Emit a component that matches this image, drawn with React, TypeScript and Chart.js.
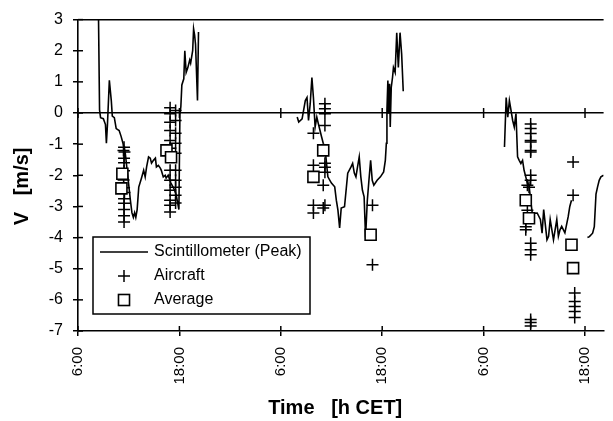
import React, { useEffect, useRef } from 'react';
import { Chart, registerables } from 'chart.js';

Chart.register(...registerables);

const FONT = '"Liberation Sans", Arial, Helvetica, sans-serif';

// Scintillometer (Peak) — time in hours from day-1 midnight (CET), V in m/s; null = gap
const scintTime = [
  8.43, 8.55, 8.67, 9.0, 9.25, 9.36, 9.48, 9.71, 9.94, 10.06, 10.3, 10.52, 10.87, 11.1, 11.25, 11.45, 11.6, 11.8,
  12.0, 12.2, 12.38, 12.55, 12.7, 12.84, 13.0, 13.19, 13.5, 13.77, 13.95, 14.12, 14.35, 14.55, 14.7, 14.93, 15.16,
  15.28, 15.51, 15.74, 15.86, 16.09, 16.32, 16.43, 16.67, 17.0, 17.3, 17.6, 17.94, 18.06, 18.17, 18.29, 18.52, 18.64,
  18.8, 18.99, 19.22, 19.33, 19.57, 19.68, 19.8, 19.91, 20.14, 20.26,
  26.0,
  31.94, 32.12, 32.52, 32.9, 33.1, 33.28, 33.48, 33.68, 33.86, 34.06, 34.26, 34.44, 34.64, 34.83, 35.02, 35.22, 35.57,
  35.99, 36.38, 36.57, 36.76, 36.96, 37.15, 37.54, 37.92, 38.31, 38.5, 38.7, 38.89, 39.08, 39.28, 39.47, 39.66, 39.86,
  40.03, 40.24, 40.43, 40.63, 40.82, 41.01, 41.4, 41.79, 42.17, 42.37, 42.49, 42.56, 42.67, 42.75, 42.87, 42.95, 43.07,
  43.22, 43.33, 43.53, 43.72, 43.91, 44.11, 44.3, 44.49,
  50.0,
  56.47, 56.67, 56.86, 57.05, 57.25, 57.44, 57.63, 57.83, 58.02, 58.21, 58.41, 58.61, 58.79, 58.99, 59.18, 59.37, 59.57,
  59.75, 59.95, 60.34, 60.72, 60.92, 61.11, 61.5, 61.69, 61.88, 62.27, 62.66, 62.85, 63.04, 63.24, 63.62, 64.01, 64.2,
  64.4,
  65.3,
  66.29, 66.52, 66.9, 67.1, 67.3, 67.48, 67.68, 67.88, 68.2,
];
const scintV = [
  3.0, 0.1, -0.15, -0.18, -0.37, -0.97, -0.4, 1.05, 0.4, -0.1, -0.15, -0.5, -0.56, -0.75, -0.9, -1.1, -1.3, -1.8,
  -2.3, -2.8, -3.2, -3.35, -3.2, -3.35, -3.1, -2.38, -2.1, -1.84, -2.05, -1.73, -1.41, -1.45, -1.61, -1.52, -1.45,
  -1.73, -1.68, -1.77, -1.84, -2.05, -2.0, -2.09, -2.0, -2.25, -2.4, -2.6, -3.1, -0.05, 0.2, 0.9, 1.1, 2.0,
  1.3, 1.45, 1.7, 1.6, 2.0, 2.7, 2.5, 2.2, 0.4, 2.6,
  null,
  -0.13, -0.29, -0.19, 0.4, 0.5, -0.24, 0.3, 1.14, 0.5, -0.45, -0.13, -0.34, -0.56, -0.77, -0.97, -1.09, -2.05,
  -2.25, -2.37, -2.8, -3.12, -3.69, -3.05, -3.01, -1.93, -1.73, -1.62, -1.93, -2.05, -1.73, -1.41, -2.05, -2.48, -2.69,
  -4.0, -2.8, -2.16, -1.52, -2.16, -2.32, -2.16, -2.05, -1.89, -1.52, -0.97, 0.08, 1.04, -0.02, 0.94, -0.45, 0.82,
  1.14, 1.46, 1.3, 2.58, 1.46, 2.58, 1.9, 0.7,
  null,
  -1.09, 0.5, -0.13, 0.4, 0.08, -0.24, -0.45, -0.02, -1.41, -1.52, -1.62, -1.52, -1.84, -2.05, -2.26, -2.3, -2.8,
  -3.2, -3.22, -3.21, -3.42, -3.86, -3.1, -4.07, -3.96, -3.42, -4.07, -3.42, -3.96, -3.75, -3.64, -3.85, -3.33, -3.0,
  -2.8,
  null,
  -4.0, -3.97, -3.86, -3.65, -2.6, -2.38, -2.16, -2.05, -2.0,
];

// Aircraft
const aircraftTime = [
  11.45, 11.38, 11.5, 11.45, 11.45, 11.45, 11.4, 11.45, 11.5, 11.45, 11.45, 11.45, 11.45, 11.45,
  16.9, 16.9, 16.9, 16.9, 16.9, 16.9, 16.9, 16.9, 16.9, 16.9, 16.9, 16.9,
  17.55, 17.55, 17.55, 17.55, 17.55, 17.55, 17.55, 17.55, 17.55, 17.55,
  35.22, 35.22, 35.22, 35.22, 33.86, 33.86, 35.22, 35.22, 35.22, 35.02, 33.86, 35.22, 33.86, 35.02, 40.85, 40.85,
  59.57, 59.57, 59.57, 59.57, 59.57, 59.57, 59.57, 59.57, 59.57, 59.18, 59.37, 59.18, 58.99, 58.99, 59.57, 59.57,
  59.57, 59.57, 59.57, 59.57, 64.59, 64.59, 64.78, 64.78, 64.78, 64.78, 64.78,
];
const aircraftV = [
  -1.1, -1.2, -1.25, -1.45, -1.6, -1.85, -2.15, -2.4, -2.55, -2.75, -2.9, -3.1, -3.3, -3.5,
  0.17, -0.02, -0.3, -0.56, -0.88, -1.13, -1.84, -2.16, -2.48, -2.8, -2.96, -3.18,
  0.08, -0.24, -0.65, -0.97, -1.29, -1.84, -2.16, -2.38, -2.64, -2.89,
  0.3, 0.14, -0.02, -0.4, -0.65, -1.68, -1.61, -1.74, -1.9, -2.32, -2.96, -2.96, -3.21, -3.05, -2.96, -4.87,
  -0.35, -0.5, -0.66, -0.88, -0.93, -1.2, -1.25, -2.0, -2.16, -2.32, -2.38, -3.12, -3.65, -3.75, -4.18, -4.39,
  -4.55, -6.63, -6.73, -6.84, -1.57, -2.64, -5.78, -6.05, -6.21, -6.37, -6.57,
];

// Average
const avgTime = [11.25, 11.14, 16.47, 17.01, 35.02, 33.86, 40.63, 58.99, 59.37, 64.4, 64.59];
const avgV = [-1.95, -2.42, -1.2, -1.42, -1.2, -2.05, -3.91, -2.8, -3.38, -4.23, -4.98];

const xTickValues = [6, 18, 30, 42, 54, 66];
const seriesLabels = ['Scintillometer (Peak)', 'Aircraft', 'Average'];

const tickMarks = {
  id: 'tickMarks',
  afterDraw(chart: any) {
    const { ctx, chartArea, scales } = chart;
    const x = scales.x;
    const y = scales.y;
    ctx.save();
    ctx.strokeStyle = '#000';
    ctx.lineWidth = 1.5;
    const seg = (x1: number, y1: number, x2: number, y2: number) => {
      ctx.beginPath();
      ctx.moveTo(x1, y1);
      ctx.lineTo(x2, y2);
      ctx.stroke();
    };
    y.ticks.forEach((t: any) => {
      const py = y.getPixelForValue(t.value);
      seg(chartArea.left, py, chartArea.left + 5, py);
    });
    const y0 = y.getPixelForValue(0);
    x.ticks.forEach((t: any) => {
      const px = x.getPixelForValue(t.value);
      seg(px, chartArea.bottom, px, chartArea.bottom - 5);
      seg(px, y0 - 5, px, y0 + 5);
    });
    ctx.restore();
  },
};

const boxLegend = {
  id: 'boxLegend',
  afterDatasetsDraw(chart: any, _args: any, opts: any) {
    const { ctx } = chart;
    const { left, top, width, height, firstRow, rowHeight, sampleX, sampleW, textX, fontSize } = opts;
    ctx.save();
    ctx.fillStyle = '#fff';
    ctx.fillRect(left, top, width, height);
    ctx.strokeStyle = '#000';
    ctx.lineWidth = 1.5;
    ctx.strokeRect(left, top, width, height);
    ctx.font = `${fontSize}px ${FONT}`;
    ctx.textBaseline = 'middle';
    ctx.textAlign = 'left';
    chart.data.datasets.forEach((ds: any, i: number) => {
      const cy = top + firstRow + i * rowHeight;
      const cx = sampleX + sampleW / 2;
      ctx.strokeStyle = '#000';
      ctx.lineWidth = 1.5;
      if (ds.type === 'line') {
        ctx.beginPath();
        ctx.moveTo(sampleX, cy);
        ctx.lineTo(sampleX + sampleW, cy);
        ctx.stroke();
      } else if (ds.pointStyle === 'cross') {
        const r = ds.pointRadius;
        ctx.beginPath();
        ctx.moveTo(cx - r, cy);
        ctx.lineTo(cx + r, cy);
        ctx.moveTo(cx, cy - r);
        ctx.lineTo(cx, cy + r);
        ctx.stroke();
      } else {
        const s = ds.pointRadius * Math.SQRT1_2;
        ctx.fillStyle = '#fff';
        ctx.fillRect(cx - s, cy - s, 2 * s, 2 * s);
        ctx.lineWidth = ds.borderWidth;
        ctx.strokeRect(cx - s, cy - s, 2 * s, 2 * s);
      }
      ctx.fillStyle = '#000';
      ctx.fillText(ds.label, textX, cy);
    });
    ctx.restore();
  },
};

export default function App() {
  const ref = useRef<HTMLCanvasElement>(null);
  useEffect(() => {
    const canvas = ref.current;
    if (!canvas) return;
    const chart = new Chart(canvas, {
      type: 'scatter',
      data: {
        datasets: [
          {
            type: 'line',
            label: seriesLabels[0],
            data: scintTime.map((t, i) => ({ x: t, y: scintV[i] })) as any,
            borderColor: '#000',
            borderWidth: 1.6,
            pointRadius: 0,
            tension: 0,
            spanGaps: false,
            fill: false,
            order: 3,
          } as any,
          {
            type: 'scatter',
            label: seriesLabels[1],
            data: aircraftTime.map((t, i) => ({ x: t, y: aircraftV[i] })),
            pointStyle: 'cross',
            pointRadius: 6,
            borderColor: '#000',
            backgroundColor: '#000',
            borderWidth: 1.5,
            order: 2,
          } as any,
          {
            type: 'scatter',
            label: seriesLabels[2],
            data: avgTime.map((t, i) => ({ x: t, y: avgV[i] })),
            pointStyle: 'rect',
            pointRadius: 7.8,
            borderColor: '#000',
            backgroundColor: '#fff',
            borderWidth: 1.6,
            order: 1,
          } as any,
        ],
      },
      options: {
        responsive: false,
        animation: false,
        devicePixelRatio: 1,
        layout: { padding: { top: 18, right: 0, left: 0, bottom: 0 } },
        plugins: {
          legend: { display: false },
          tooltip: { enabled: false },
          boxLegend: {
            left: 93, top: 237, width: 217, height: 77,
            firstRow: 15, rowHeight: 24, sampleX: 100, sampleW: 48, textX: 154, fontSize: 16,
          },
        } as any,
        scales: {
          x: {
            type: 'linear',
            position: 'bottom',
            min: 6,
            max: 68.2,
            afterBuildTicks: (s: any) => {
              s.ticks = xTickValues.map((v) => ({ value: v }));
            },
            afterFit: (s: any) => {
              s.height = 90;
              s.paddingLeft = 0;
              s.paddingRight = 0;
            },
            ticks: {
              autoSkip: false,
              minRotation: 90,
              maxRotation: 90,
              padding: 11,
              color: '#000',
              font: { family: FONT, size: 15 },
              callback: (v: any) => `${Number(v) % 24}:00`,
            },
            grid: { drawOnChartArea: false, tickLength: 5, tickColor: '#000', lineWidth: 1.5 },
            border: { color: '#000', width: 1.6 },
            title: {
              display: true,
              text: 'Time   [h CET]  ',
              color: '#000',
              font: { family: FONT, size: 20, weight: 'bold' },
              padding: { top: 0, bottom: 1 },
            },
          },
          y: {
            type: 'linear',
            min: -7,
            max: 3,
            afterFit: (s: any) => {
              s.width = 78;
            },
            ticks: {
              stepSize: 1,
              padding: 10,
              color: '#000',
              font: { family: FONT, size: 16 },
            },
            grid: {
              color: (c: any) => (c.tick && (c.tick.value === 0 || c.tick.value === 3) ? '#000' : 'rgba(0,0,0,0)'),
              tickColor: '#000',
              tickLength: 5,
              lineWidth: 1.5,
            },
            border: { color: '#000', width: 1.6 },
            title: {
              display: true,
              text: 'V   [m/s]    ',
              color: '#000',
              font: { family: FONT, size: 20, weight: 'bold' },
              padding: { top: 10, bottom: 0 },
            },
          },
        },
      } as any,
      plugins: [tickMarks, boxLegend],
    });
    return () => chart.destroy();
  }, []);
  return (
    <div style={{ position: 'fixed', left: 0, top: 0, width: 613, height: 421, background: '#fff' }}>
      <canvas ref={ref} width={613} height={421} style={{ display: 'block' }} />
    </div>
  );
}
